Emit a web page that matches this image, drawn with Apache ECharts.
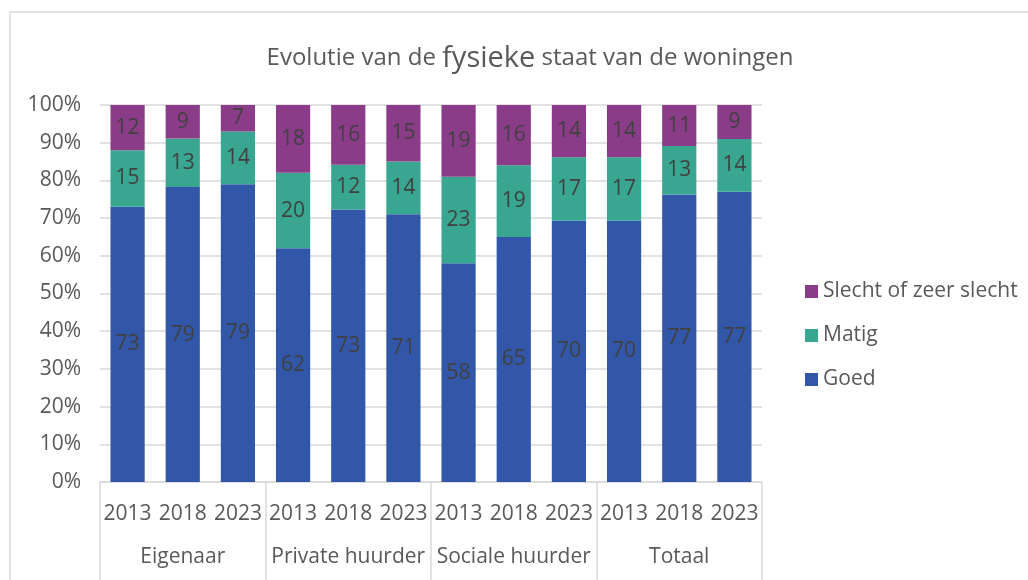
<!DOCTYPE html>
<html>
<head>
<meta charset="utf-8">
<script src="https://cdn.jsdelivr.net/npm/echarts@6/dist/echarts.min.js"></script>
<title>Fysieke staat van de woningen</title>
<style>html,body{margin:0;padding:0;background:#fff;}</style>
</head>
<body>
<div id="main" style="width:1028px;height:580px;"></div>
<script>
var years = ['2013', '2018', '2023', '2013', '2018', '2023', '2013', '2018', '2023', '2013', '2018', '2023'];
var groups = ['Eigenaar', 'Private huurder', 'Sociale huurder', 'Totaal'];
var goed = [73, 79, 79, 62, 73, 71, 58, 65, 70, 70, 77, 77];
var matig = [15, 13, 14, 20, 12, 14, 23, 19, 17, 17, 13, 14];
var slecht = [12, 9, 7, 18, 16, 15, 19, 16, 14, 14, 11, 9];
var yTicks = [0, 10, 20, 30, 40, 50, 60, 70, 80, 90, 100];

var font = '"Open Sans", sans-serif';
var txt = '#595959';

// 100% stacked: normalise, keep raw value for the label
function share(arr, i) {
  var tot = goed[i] + matig[i] + slecht[i];
  return { value: arr[i] / tot * 100, raw: arr[i] };
}
function build(arr) {
  var res = [];
  for (var i = 0; i < arr.length; i++) res.push(share(arr, i));
  return res;
}

function bar(name, arr, color) {
  return {
    name: name,
    type: 'bar',
    stack: 'a',
    barCategoryGap: '38%',
    data: build(arr),
    itemStyle: { color: color },
    label: {
      show: true,
      position: 'inside',
      color: '#404040',
      fontSize: 21,
      fontFamily: font,
      formatter: function (p) { return p.data.raw; }
    }
  };
}

var myChart = echarts.init(document.getElementById('main'));
myChart.setOption({
  backgroundColor: '#fff',
  animation: false,
  graphic: [{
    type: 'rect',
    shape: { x: 10, y: 12, width: 1040, height: 620 },
    style: { fill: 'none', stroke: '#d9d9d9', lineWidth: 1.5 }
  }],
  title: {
    text: '{a|Evolutie van de }{b|fysieke}{a| staat van de woningen}',
    left: 525,
    textAlign: 'center',
    top: 39,
    textStyle: {
      fontWeight: 'normal',
      rich: {
        a: { fontSize: 24, color: txt, fontFamily: font, fontWeight: 'normal' },
        b: { fontSize: 29, color: txt, fontFamily: font, fontWeight: 'normal' }
      }
    }
  },
  legend: {
    orient: 'vertical',
    left: 800,
    top: 276,
    itemGap: 23,
    itemWidth: 13,
    itemHeight: 13,
    icon: 'rect',
    data: ['Slecht of zeer slecht', 'Matig', 'Goed'],
    textStyle: { fontSize: 21, color: txt, fontFamily: font }
  },
  grid: { left: 100, right: 266, top: 105, bottom: 98 },
  xAxis: [{
    type: 'category',
    data: years,
    position: 'bottom',
    axisLine: { lineStyle: { color: '#d9d9d9', width: 1.5 } },
    axisTick: { show: false },
    axisLabel: { color: txt, fontSize: 21, fontFamily: font, margin: 22, interval: 0 }
  }, {
    type: 'category',
    data: groups,
    position: 'bottom',
    axisLine: { show: false },
    axisTick: { show: true, length: 100, lineStyle: { color: '#d9d9d9', width: 1.5 } },
    axisLabel: { color: txt, fontSize: 21, fontFamily: font, margin: 65, interval: 0 }
  }],
  yAxis: {
    type: 'value',
    min: yTicks[0],
    max: yTicks[yTicks.length - 1],
    interval: 10,
    axisLine: { show: false },
    axisTick: { show: false },
    axisLabel: { color: txt, fontSize: 21, fontFamily: font, margin: 19, formatter: '{value}%' },
    splitLine: { lineStyle: { color: '#d9d9d9', width: 1.5 } }
  },
  series: [
    bar('Goed', goed, '#3257a8'),
    bar('Matig', matig, '#38a690'),
    bar('Slecht of zeer slecht', slecht, '#8b3c88')
  ]
});
</script>
</body>
</html>
